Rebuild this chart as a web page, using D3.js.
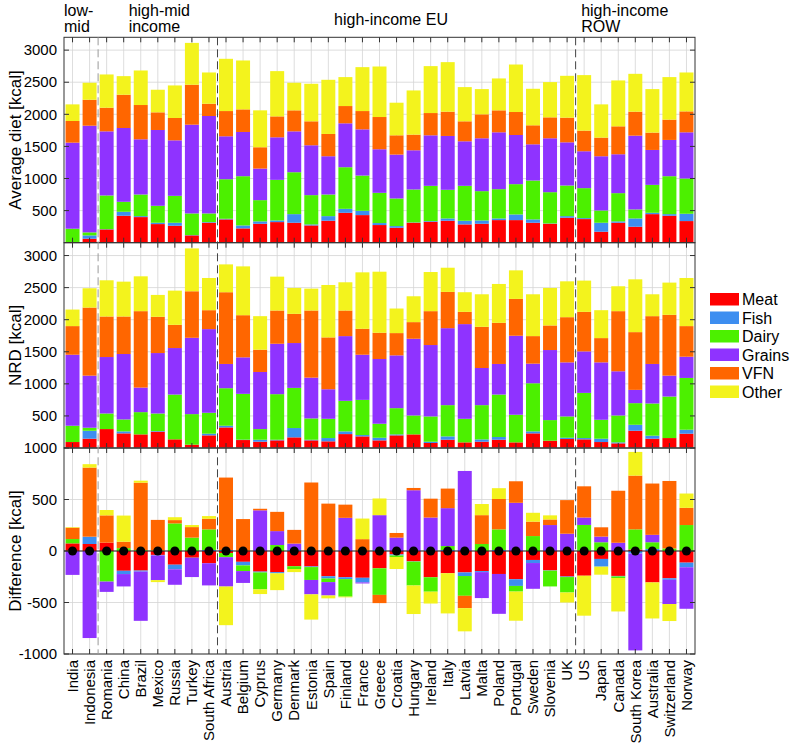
<!DOCTYPE html>
<html><head><meta charset="utf-8">
<script src="https://cdn.jsdelivr.net/npm/d3@7"></script>
<style>body{margin:0;background:#fff} text{font-family:"Liberation Sans",Arial,Helvetica,sans-serif;fill:#000}</style>
</head><body><svg id="c" width="793" height="744"></svg>
<script>
const countries = ["India","Indonesia","Romania","China","Brazil","Mexico","Russia","Turkey","South Africa","Austria","Belgium","Cyprus","Germany","Denmark","Estonia","Spain","Finland","France","Greece","Croatia","Hungary","Ireland","Italy","Latvia","Malta","Poland","Portugal","Sweden","Slovenia","UK","US","Japan","Canada","South Korea","Australia","Switzerland","Norway"];
const foods = ["Meat","Fish","Dairy","Grains","VFN","Other"];
const foodColors = ["#ff0000","#3d8ef0","#4cf000","#8f33ff","#ff6600","#f3f31d"];
const groupLabels = [["low-","mid"],["high-mid","income"],["high-income EU"],["high-income","ROW"]];
const groupBreaks = ["Indonesia","South Africa","UK"];
const avgTicks = [500,1000,1500,2000,2500,3000];
const diffTicks = [-1000,-500,0,500,1000];

// Average diet [kcal]
const avgMeat   = [10,62,207,420,399,290,264,114,311,363,223,295,321,311,269,342,466,430,275,233,311,326,342,285,295,352,352,311,295,389,368,171,311,249,445,420,337];
const avgFish   = [0,52,5,62,15,21,47,5,10,10,46,37,26,134,16,72,62,67,31,26,5,11,36,57,52,26,88,52,5,25,15,140,21,129,21,25,114];
const avgDairy  = [208,47,524,155,337,264,419,337,135,616,767,331,632,653,456,337,648,549,471,430,513,549,446,544,456,456,472,606,487,477,467,191,440,140,435,591,549];
const avgGrains = [1341,1662,999,1150,860,1181,865,1383,1518,669,689,492,663,637,777,596,684,720,679,684,611,787,839,694,824,886,766,564,840,673,575,845,606,1150,544,565,720];
const avgVFN    = [337,404,368,518,534,275,348,622,191,393,352,332,326,327,373,347,269,285,502,300,244,347,378,311,373,342,358,296,326,384,321,290,435,373,270,316,326];
const avgOther  = [259,265,518,290,538,352,507,652,487,814,762,575,705,430,585,844,451,684,787,508,688,731,772,533,393,497,740,569,549,652,865,518,715,590,678,663,606];

// NRD [kcal]
const nrdMeat   = [93,145,295,228,212,254,135,52,197,321,124,98,119,166,119,104,217,181,119,197,212,78,129,88,98,129,88,228,114,140,135,93,72,269,145,155,223];
const nrdFish   = [0,124,0,31,0,10,0,0,26,26,6,31,10,145,10,51,42,21,41,15,0,20,52,0,36,42,0,31,0,20,20,52,16,93,47,0,62];
const nrdDairy  = [254,47,243,186,347,274,698,476,326,585,714,166,710,626,332,300,476,548,218,409,295,394,487,367,534,662,430,750,321,332,704,295,419,337,502,647,807];
const nrdGrains = [1107,812,880,1020,383,942,725,1190,1304,378,569,890,786,699,636,461,1009,704,1009,823,1196,1113,1200,1476,579,477,1232,306,1092,843,647,895,689,207,616,326,331];
const nrdVFN    = [446,1061,632,585,1191,565,362,725,295,1118,657,347,518,455,1046,808,399,404,409,347,259,528,565,191,642,641,574,429,383,704,616,378,937,900,745,948,477];
const nrdOther  = [258,301,564,543,543,341,533,668,502,434,761,523,528,404,341,817,440,880,952,383,403,610,377,306,507,606,445,652,585,559,487,435,388,823,341,502,750];

// Difference [kcal]
const diffMeat   = [74,68,81,-192,-190,-38,-133,-65,-119,-20,-105,-200,-205,-148,-150,-245,-255,-260,-168,-33,-100,-255,-216,-208,-195,-223,-274,-87,-188,-248,-240,-77,-242,15,-305,-265,-113];
const diffFish   = [0,71,0,-32,-10,-5,-45,-3,10,10,-35,-8,-12,10,-6,-22,-18,-45,10,-10,-3,5,10,-35,-10,10,-65,-30,-3,-5,3,-75,-5,-25,20,-15,-45];
const diffDairy  = [42,0,-297,28,8,5,268,130,200,-40,-55,-165,58,-27,-125,-35,-170,0,-258,-15,-232,-140,38,-192,68,200,-55,145,-153,-150,250,85,-15,195,65,25,252];
const diffGrains = [-232,-845,-100,-120,-478,-240,-150,-185,-215,-285,-115,395,135,62,-140,-130,322,-10,338,130,590,320,368,777,-252,-387,468,-250,252,168,72,55,80,-940,72,-235,-403];
const diffVFN    = [110,671,265,62,655,297,32,102,103,703,310,15,187,133,665,460,128,115,-80,45,22,183,190,-120,280,295,209,140,54,326,303,90,505,522,498,655,167];
const diffOther  = [6,33,52,254,20,-19,28,20,26,-375,0,-45,-163,-30,-245,-28,-7,200,162,-117,-277,-115,-390,-225,108,105,-283,86,40,-97,-388,-78,-325,230,-350,-165,139];

function rows(arrs){ return countries.map((c,i)=>{ const r={country:c}; foods.forEach((f,k)=>r[f]=arrs[k][i]); return r; }); }

const panels = [
  {title:"Average diet [kcal]", data:rows([avgMeat,avgFish,avgDairy,avgGrains,avgVFN,avgOther]), domain:[0,3200], top:37.3, bottom:242.7, ticks:avgTicks},
  {title:"NRD [kcal]", data:rows([nrdMeat,nrdFish,nrdDairy,nrdGrains,nrdVFN,nrdOther]), domain:[0,3200], top:242.7, bottom:448, ticks:avgTicks},
  {title:"Difference [kcal]", data:rows([diffMeat,diffFish,diffDairy,diffGrains,diffVFN,diffOther]), domain:[-1000,1000], top:448, bottom:654, ticks:diffTicks, diff:true}
];

const L=64, R=695;
const svg = d3.select("#c");
const x = d3.scaleBand().domain(countries).range([L,R]).paddingInner(0.18).paddingOuter(0.09);
const cx = c => x(c)+x.bandwidth()/2;
const step = x.step();
const color = d3.scaleOrdinal().domain(foods).range(foodColors);
const stack = d3.stack().keys(foods).offset(d3.stackOffsetDiverging);

panels.forEach(p=>{
  const y = d3.scaleLinear().domain(p.domain).range([p.bottom,p.top]);
  const g = svg.append("g");
  g.append("g").selectAll("line").data(countries).join("line")
    .attr("x1",cx).attr("x2",cx).attr("y1",p.top).attr("y2",p.bottom)
    .attr("stroke","#d4d4d4").attr("stroke-width",0.8);
  g.append("g").selectAll("line").data(p.ticks).join("line")
    .attr("x1",L).attr("x2",R).attr("y1",d=>y(d)).attr("y2",d=>y(d))
    .attr("stroke","#d4d4d4").attr("stroke-width",0.8);
  const series = stack(p.data);
  g.append("g").selectAll("g").data(series).join("g").attr("fill",d=>color(d.key))
    .selectAll("rect").data(d=>d).join("rect")
    .attr("x",d=>x(d.data.country)).attr("width",x.bandwidth())
    .attr("y",d=>y(Math.max(d[0],d[1]))).attr("height",d=>Math.abs(y(d[0])-y(d[1])));
  if(p.diff){
    g.append("line").attr("x1",L).attr("x2",R).attr("y1",y(0)).attr("y2",y(0)).attr("stroke","#222").attr("stroke-width",1);
    g.append("g").selectAll("circle").data(countries).join("circle")
      .attr("cx",cx).attr("cy",y(0)).attr("r",4.5).attr("fill","#000");
  }
  const tk = g.append("g").attr("stroke","#333").attr("stroke-width",1);
  countries.forEach(c=>{
    tk.append("line").attr("x1",cx(c)).attr("x2",cx(c)).attr("y1",p.top).attr("y2",p.top+5);
    tk.append("line").attr("x1",cx(c)).attr("x2",cx(c)).attr("y1",p.bottom).attr("y2",p.bottom-5);
  });
  p.ticks.forEach(t=>{
    tk.append("line").attr("x1",L).attr("x2",L+5).attr("y1",y(t)).attr("y2",y(t));
    tk.append("line").attr("x1",R).attr("x2",R-5).attr("y1",y(t)).attr("y2",y(t));
  });
  g.append("g").selectAll("text").data(p.ticks).join("text")
    .attr("x",57).attr("y",d=>y(d)).attr("dy","0.35em").attr("text-anchor","end")
    .attr("font-size",15).text(d=>d);
  g.append("text").attr("transform",`translate(21,${(p.top+p.bottom)/2}) rotate(-90)`)
    .attr("text-anchor","middle").attr("font-size",17).text(p.title);
});

panels.forEach(p=>{
  svg.append("rect").attr("x",L).attr("y",p.top).attr("width",R-L).attr("height",p.bottom-p.top)
    .attr("fill","none").attr("stroke","#333").attr("stroke-width",1);
});

groupBreaks.forEach((c,i)=>{
  const xv = x(c)+x.bandwidth()+ (step-x.bandwidth())/2;
  svg.append("line").attr("x1",xv).attr("x2",xv).attr("y1",37.3).attr("y2",654)
    .attr("stroke", i===0?"#999":"#444").attr("stroke-width",1).attr("stroke-dasharray","8,4");
});

const gl = svg.append("g").attr("font-size",16);
function ml(lines,xp){ lines.forEach((t,i)=>gl.append("text").attr("x",xp).attr("y",15.5+i*16.3).text(t)); }
ml(groupLabels[0], x("India")-1.5);
ml(groupLabels[1], x("Romania")+29);
gl.append("text").attr("x",(cx("Greece")+cx("Croatia"))/2 + 3).attr("y",25).attr("text-anchor","middle").text(groupLabels[2][0]);
ml(groupLabels[3], x("US")+4);

svg.append("g").selectAll("text").data(countries).join("text")
  .attr("transform",d=>`translate(${cx(d)},660) rotate(-90)`)
  .attr("dy","0.35em").attr("text-anchor","end").attr("font-size",15).text(d=>d);

const lg = svg.append("g").attr("transform","translate(710,293)");
foods.forEach((f,i)=>{
  lg.append("rect").attr("x",0).attr("y",i*18.5).attr("width",29).attr("height",12.5).attr("fill",color(f));
  lg.append("text").attr("x",32).attr("y",i*18.5+6.5).attr("dy","0.36em").attr("font-size",16).text(f);
});
</script></body></html>
